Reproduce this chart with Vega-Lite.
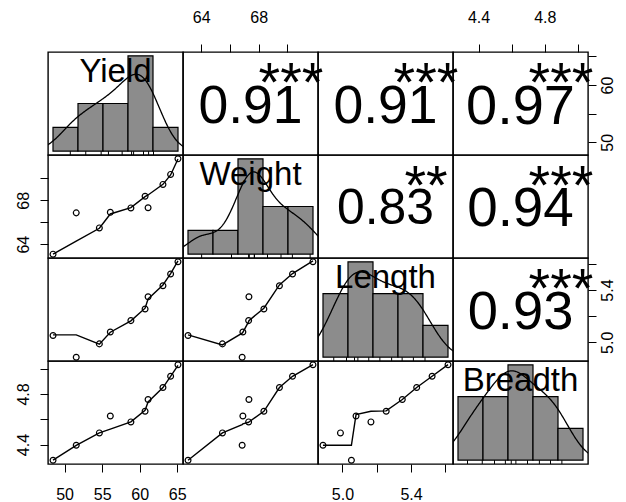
{
"$schema":"https://vega.github.io/schema/vega-lite/v6.json",
"background":"white",
"padding":{"left":14,"top":8,"right":5,"bottom":5},
"config":{
 "font":"Liberation Sans",
 "view":{"stroke":"black","strokeWidth":1.4},
 "concat":{"spacing":0},
 "axis":{"grid":false,"domain":false,"ticks":true,"tickColor":"black","tickWidth":1,"tickSize":8,"labelColor":"black","labelFont":"Liberation Sans","labelFontSize":16,"labelPadding":9,"labelOverlap":false,"labelFlush":false,"labelBound":false},
 "axisLeft":{"labelAngle":270,"labelAlign":"center","labelBaseline":"bottom","labelPadding":9},
 "axisRight":{"labelAngle":270,"labelAlign":"center","labelBaseline":"top","labelPadding":3},
 "axisTop":{"labelAngle":0,"labelAlign":"center","labelBaseline":"bottom","labelPadding":19},
 "axisBottom":{"labelAngle":0,"labelAlign":"center","labelBaseline":"top","labelPadding":14}
},
"datasets":{
 "obs":[
  {"Yield":48.46,"Weight":63.09,"Length":5.052,"Breadth":4.276},
  {"Yield":51.55,"Weight":66.85,"Length":4.886,"Breadth":4.394},
  {"Yield":54.63,"Weight":65.48,"Length":4.988,"Breadth":4.492},
  {"Yield":56.09,"Weight":66.9,"Length":5.079,"Breadth":4.626},
  {"Yield":58.83,"Weight":67.3,"Length":5.166,"Breadth":4.579},
  {"Yield":60.72,"Weight":68.36,"Length":5.255,"Breadth":4.663},
  {"Yield":61.12,"Weight":67.32,"Length":5.349,"Breadth":4.756},
  {"Yield":63.1,"Weight":69.44,"Length":5.433,"Breadth":4.851},
  {"Yield":64.12,"Weight":70.35,"Length":5.523,"Breadth":4.94},
  {"Yield":65.1,"Weight":71.77,"Length":5.616,"Breadth":5.031}
 ],
 "smooth":[
  {"pair":"YW","x":48.46,"y":63.09},{"pair":"YW","x":51.55,"y":64.27},{"pair":"YW","x":54.63,"y":65.45},{"pair":"YW","x":56.09,"y":66.75},{"pair":"YW","x":58.83,"y":67.33},{"pair":"YW","x":60.72,"y":68.33},{"pair":"YW","x":61.12,"y":68.48},{"pair":"YW","x":63.1,"y":69.45},{"pair":"YW","x":64.12,"y":70.3},{"pair":"YW","x":65.1,"y":71.75},
  {"pair":"YL","x":48.46,"y":5.057},{"pair":"YL","x":51.55,"y":5.057},{"pair":"YL","x":54.63,"y":4.985},{"pair":"YL","x":56.09,"y":5.077},{"pair":"YL","x":58.83,"y":5.164},{"pair":"YL","x":60.72,"y":5.261},{"pair":"YL","x":61.12,"y":5.332},{"pair":"YL","x":63.1,"y":5.439},{"pair":"YL","x":64.12,"y":5.526},{"pair":"YL","x":65.1,"y":5.623},
  {"pair":"YB","x":48.46,"y":4.276},{"pair":"YB","x":51.55,"y":4.394},{"pair":"YB","x":54.63,"y":4.492},{"pair":"YB","x":56.09,"y":4.522},{"pair":"YB","x":58.83,"y":4.579},{"pair":"YB","x":60.72,"y":4.671},{"pair":"YB","x":61.12,"y":4.737},{"pair":"YB","x":63.1,"y":4.851},{"pair":"YB","x":64.12,"y":4.94},{"pair":"YB","x":65.1,"y":5.027},
  {"pair":"WL","x":63.09,"y":5.057},{"pair":"WL","x":65.48,"y":4.98},{"pair":"WL","x":66.85,"y":5.07},{"pair":"WL","x":66.9,"y":5.077},{"pair":"WL","x":67.3,"y":5.158},{"pair":"WL","x":67.32,"y":5.166},{"pair":"WL","x":68.36,"y":5.261},{"pair":"WL","x":69.44,"y":5.439},{"pair":"WL","x":70.35,"y":5.526},{"pair":"WL","x":71.77,"y":5.623},
  {"pair":"WB","x":63.09,"y":4.276},{"pair":"WB","x":65.48,"y":4.492},{"pair":"WB","x":66.85,"y":4.558},{"pair":"WB","x":66.9,"y":4.563},{"pair":"WB","x":67.3,"y":4.576},{"pair":"WB","x":67.32,"y":4.579},{"pair":"WB","x":68.36,"y":4.663},{"pair":"WB","x":69.44,"y":4.851},{"pair":"WB","x":70.35,"y":4.94},{"pair":"WB","x":71.77,"y":5.032},
  {"pair":"LB","x":4.886,"y":4.394},{"pair":"LB","x":4.988,"y":4.394},{"pair":"LB","x":5.052,"y":4.394},{"pair":"LB","x":5.079,"y":4.637},{"pair":"LB","x":5.166,"y":4.663},{"pair":"LB","x":5.255,"y":4.666},{"pair":"LB","x":5.349,"y":4.756},{"pair":"LB","x":5.433,"y":4.851},{"pair":"LB","x":5.523,"y":4.94},{"pair":"LB","x":5.616,"y":5.032}
 ],
 "hist":[
  {"var":"Yield","b0":45,"b1":50,"count":1},{"var":"Yield","b0":50,"b1":55,"count":2},{"var":"Yield","b0":55,"b1":60,"count":2},{"var":"Yield","b0":60,"b1":65,"count":4},{"var":"Yield","b0":65,"b1":70,"count":1},
  {"var":"Weight","b0":62,"b1":64,"count":1},{"var":"Weight","b0":64,"b1":66,"count":1},{"var":"Weight","b0":66,"b1":68,"count":4},{"var":"Weight","b0":68,"b1":70,"count":2},{"var":"Weight","b0":70,"b1":72,"count":2},
  {"var":"Length","b0":4.8,"b1":5.0,"count":2},{"var":"Length","b0":5.0,"b1":5.2,"count":3},{"var":"Length","b0":5.2,"b1":5.4,"count":2},{"var":"Length","b0":5.4,"b1":5.6,"count":2},{"var":"Length","b0":5.6,"b1":5.8,"count":1},
  {"var":"Breadth","b0":4.2,"b1":4.4,"count":2},{"var":"Breadth","b0":4.4,"b1":4.6,"count":2},{"var":"Breadth","b0":4.6,"b1":4.8,"count":3},{"var":"Breadth","b0":4.8,"b1":5.0,"count":2},{"var":"Breadth","b0":5.0,"b1":5.2,"count":1}
 ],
 "names":[{"var":"Yield"},{"var":"Weight"},{"var":"Length"},{"var":"Breadth"}],
 "cor":[
  {"pair":"YW","r":"0.91","sig":"***"},{"pair":"YL","r":"0.91","sig":"***"},{"pair":"YB","r":"0.97","sig":"***"},
  {"pair":"WL","r":"0.83","sig":"**"},{"pair":"WB","r":"0.94","sig":"***"},{"pair":"LB","r":"0.93","sig":"***"}
 ]
},
"columns":4,
"spacing":0,
"bounds":"flush",
"concat":[
  {"width":135,"height":103,"resolve":{"scale":{"x":"independent","y":"independent"}},"layer":[
   {"data":{"name":"hist"},"transform":[{"filter":"datum.var=='Yield'"}],"mark":{"type":"rect","fill":"#8c8c8c","stroke":"black","strokeWidth":1.2},
    "encoding":{"x":{"field":"b0","type":"quantitative","scale":{"domain":[44,71],"nice":false,"zero":false},"axis":null},"x2":{"field":"b1"},
     "y":{"field":"count","type":"quantitative","scale":{"domain":[-0.16,4.16],"nice":false,"zero":false},"axis":null},"y2":{"datum":0}}},
   {"data":{"name":"obs"},"transform":[{"density":"Yield","bandwidth":3.156,"extent":[38.99,74.57],"steps":300}],"mark":{"type":"line","color":"black","strokeWidth":1.3,"clip":true},
    "encoding":{"x":{"field":"value","type":"quantitative","scale":{"domain":[44,71],"nice":false,"zero":false},"axis":null},
     "y":{"field":"density","type":"quantitative","scale":{"domain":[-0.0032,0.0832],"nice":false,"zero":false},"axis":null}}},
   {"data":{"name":"obs"},"mark":{"type":"rule","color":"black","strokeWidth":1},
    "encoding":{"x":{"field":"Yield","type":"quantitative","scale":{"domain":[44,71],"nice":false,"zero":false},"axis":null},
     "y":{"datum":-0.16,"type":"quantitative","scale":{"domain":[-0.16,4.16],"nice":false,"zero":false},"axis":null},"y2":{"datum":0}}},
   {"data":{"name":"names"},"transform":[{"filter":"datum.var=='Yield'"}],"mark":{"type":"text","fontSize":33,"baseline":"alphabetic","align":"center","dy":13,"color":"black"},
    "encoding":{"text":{"field":"var","type":"nominal"},"x":{"datum":0.5,"type":"quantitative","scale":{"domain":[0,1],"nice":false,"zero":false},"axis":null},
     "y":{"datum":0.833,"type":"quantitative","scale":{"domain":[0,1],"nice":false,"zero":false},"axis":null}}}
  ]},
  {"width":135,"height":103,"resolve":{"scale":{"x":"independent","y":"independent"}},"layer":[
   {"data":{"name":"obs"},"mark":{"type":"point","opacity":0},
    "encoding":{"x":{"field":"Weight","type":"quantitative","scale":{"domain":[62.74,72.12],"nice":false,"zero":false},"axis":{"orient":"top","values":[64,66,68,70],"title":null,"labelExpr":"datum.value==66||datum.value==70?'':datum.label"}}}},
   {"data":{"name":"cor"},"transform":[{"filter":"datum.pair=='YW'"}],"mark":{"type":"text","fontSize":53.5,"baseline":"alphabetic","align":"center","dy":19.2,"color":"black"},
    "encoding":{"text":{"field":"r","type":"nominal"},"x":{"datum":0.5,"type":"quantitative","scale":{"domain":[0,1],"nice":false,"zero":false},"axis":null},"y":{"datum":0.5,"type":"quantitative","scale":{"domain":[0,1],"nice":false,"zero":false},"axis":null}}},
   {"data":{"name":"cor"},"transform":[{"filter":"datum.pair=='YW'"}],"mark":{"type":"text","fontSize":55.5,"baseline":"alphabetic","align":"center","dy":28,"color":"black"},
    "encoding":{"text":{"field":"sig","type":"nominal"},"x":{"datum":0.8,"type":"quantitative","scale":{"domain":[0,1],"nice":false,"zero":false},"axis":null},"y":{"datum":0.8,"type":"quantitative","scale":{"domain":[0,1],"nice":false,"zero":false},"axis":null}}}
  ]},
  {"width":135,"height":103,"resolve":{"scale":{"x":"independent","y":"independent"}},"layer":[
   {"data":{"name":"cor"},"transform":[{"filter":"datum.pair=='YL'"}],"mark":{"type":"text","fontSize":53.5,"baseline":"alphabetic","align":"center","dy":19.2,"color":"black"},
    "encoding":{"text":{"field":"r","type":"nominal"},"x":{"datum":0.5,"type":"quantitative","scale":{"domain":[0,1],"nice":false,"zero":false},"axis":null},"y":{"datum":0.5,"type":"quantitative","scale":{"domain":[0,1],"nice":false,"zero":false},"axis":null}}},
   {"data":{"name":"cor"},"transform":[{"filter":"datum.pair=='YL'"}],"mark":{"type":"text","fontSize":55.5,"baseline":"alphabetic","align":"center","dy":28,"color":"black"},
    "encoding":{"text":{"field":"sig","type":"nominal"},"x":{"datum":0.8,"type":"quantitative","scale":{"domain":[0,1],"nice":false,"zero":false},"axis":null},"y":{"datum":0.8,"type":"quantitative","scale":{"domain":[0,1],"nice":false,"zero":false},"axis":null}}}
  ]},
  {"width":135,"height":103,"resolve":{"scale":{"x":"independent","y":"independent"}},"layer":[
   {"data":{"name":"obs"},"mark":{"type":"point","opacity":0},
    "encoding":{"x":{"field":"Breadth","type":"quantitative","scale":{"domain":[4.246,5.061],"nice":false,"zero":false},"axis":{"orient":"top","values":[4.4,4.6,4.8,5],"title":null,"labelExpr":"datum.value==4.6||datum.value==5?'':format(datum.value,'.1f')"}},
     "y":{"field":"Yield","type":"quantitative","scale":{"domain":[47.79,65.77],"nice":false,"zero":false},"axis":{"orient":"right","values":[50,55,60,65],"title":null,"labelExpr":"datum.value==55||datum.value==65?'':datum.label"}}}},
   {"data":{"name":"cor"},"transform":[{"filter":"datum.pair=='YB'"}],"mark":{"type":"text","fontSize":56,"baseline":"alphabetic","align":"center","dy":20,"color":"black"},
    "encoding":{"text":{"field":"r","type":"nominal"},"x":{"datum":0.5,"type":"quantitative","scale":{"domain":[0,1],"nice":false,"zero":false},"axis":null},"y":{"datum":0.5,"type":"quantitative","scale":{"domain":[0,1],"nice":false,"zero":false},"axis":null}}},
   {"data":{"name":"cor"},"transform":[{"filter":"datum.pair=='YB'"}],"mark":{"type":"text","fontSize":55.5,"baseline":"alphabetic","align":"center","dy":28,"color":"black"},
    "encoding":{"text":{"field":"sig","type":"nominal"},"x":{"datum":0.8,"type":"quantitative","scale":{"domain":[0,1],"nice":false,"zero":false},"axis":null},"y":{"datum":0.8,"type":"quantitative","scale":{"domain":[0,1],"nice":false,"zero":false},"axis":null}}}
  ]},
  {"width":135,"height":103,"layer":[
   {"data":{"name":"obs"},"mark":{"type":"point","shape":"circle","filled":false,"color":"black","size":34,"strokeWidth":1.2,"opacity":1},
    "encoding":{"x":{"field":"Yield","type":"quantitative","scale":{"domain":[47.79,65.77],"nice":false,"zero":false},"axis":null},
     "y":{"field":"Weight","type":"quantitative","scale":{"domain":[62.74,72.12],"nice":false,"zero":false},"axis":{"orient":"left","values":[64,66,68,70],"title":null,"labelExpr":"datum.value==66||datum.value==70?'':datum.label"}}}},
   {"data":{"name":"smooth"},"transform":[{"filter":"datum.pair=='YW'"}],"mark":{"type":"line","color":"black","strokeWidth":1.4},
    "encoding":{"x":{"field":"x","type":"quantitative","axis":null},"y":{"field":"y","type":"quantitative","axis":{"orient":"left","values":[64,66,68,70],"title":null,"labelExpr":"datum.value==66||datum.value==70?'':datum.label"}}}}
  ]},
  {"width":135,"height":103,"resolve":{"scale":{"x":"independent","y":"independent"}},"layer":[
   {"data":{"name":"hist"},"transform":[{"filter":"datum.var=='Weight'"}],"mark":{"type":"rect","fill":"#8c8c8c","stroke":"black","strokeWidth":1.2},
    "encoding":{"x":{"field":"b0","type":"quantitative","scale":{"domain":[61.6,72.4],"nice":false,"zero":false},"axis":null},"x2":{"field":"b1"},
     "y":{"field":"count","type":"quantitative","scale":{"domain":[-0.16,4.16],"nice":false,"zero":false},"axis":null},"y2":{"datum":0}}},
   {"data":{"name":"obs"},"transform":[{"density":"Weight","bandwidth":1.17,"extent":[59.58,75.28],"steps":300}],"mark":{"type":"line","color":"black","strokeWidth":1.3,"clip":true},
    "encoding":{"x":{"field":"value","type":"quantitative","scale":{"domain":[61.6,72.4],"nice":false,"zero":false},"axis":null},
     "y":{"field":"density","type":"quantitative","scale":{"domain":[-0.008,0.208],"nice":false,"zero":false},"axis":null}}},
   {"data":{"name":"obs"},"mark":{"type":"rule","color":"black","strokeWidth":1},
    "encoding":{"x":{"field":"Weight","type":"quantitative","scale":{"domain":[61.6,72.4],"nice":false,"zero":false},"axis":null},
     "y":{"datum":-0.16,"type":"quantitative","scale":{"domain":[-0.16,4.16],"nice":false,"zero":false},"axis":null},"y2":{"datum":0}}},
   {"data":{"name":"names"},"transform":[{"filter":"datum.var=='Weight'"}],"mark":{"type":"text","fontSize":33,"baseline":"alphabetic","align":"center","dy":13,"color":"black"},
    "encoding":{"text":{"field":"var","type":"nominal"},"x":{"datum":0.5,"type":"quantitative","scale":{"domain":[0,1],"nice":false,"zero":false},"axis":null},
     "y":{"datum":0.833,"type":"quantitative","scale":{"domain":[0,1],"nice":false,"zero":false},"axis":null}}}
  ]},
  {"width":135,"height":103,"resolve":{"scale":{"x":"independent","y":"independent"}},"layer":[
   {"data":{"name":"cor"},"transform":[{"filter":"datum.pair=='WL'"}],"mark":{"type":"text","fontSize":49.8,"baseline":"alphabetic","align":"center","dy":17.8,"color":"black"},
    "encoding":{"text":{"field":"r","type":"nominal"},"x":{"datum":0.5,"type":"quantitative","scale":{"domain":[0,1],"nice":false,"zero":false},"axis":null},"y":{"datum":0.5,"type":"quantitative","scale":{"domain":[0,1],"nice":false,"zero":false},"axis":null}}},
   {"data":{"name":"cor"},"transform":[{"filter":"datum.pair=='WL'"}],"mark":{"type":"text","fontSize":55.5,"baseline":"alphabetic","align":"center","dy":28,"color":"black"},
    "encoding":{"text":{"field":"sig","type":"nominal"},"x":{"datum":0.8,"type":"quantitative","scale":{"domain":[0,1],"nice":false,"zero":false},"axis":null},"y":{"datum":0.8,"type":"quantitative","scale":{"domain":[0,1],"nice":false,"zero":false},"axis":null}}}
  ]},
  {"width":135,"height":103,"resolve":{"scale":{"x":"independent","y":"independent"}},"layer":[
   {"data":{"name":"cor"},"transform":[{"filter":"datum.pair=='WB'"}],"mark":{"type":"text","fontSize":54.8,"baseline":"alphabetic","align":"center","dy":19.6,"color":"black"},
    "encoding":{"text":{"field":"r","type":"nominal"},"x":{"datum":0.5,"type":"quantitative","scale":{"domain":[0,1],"nice":false,"zero":false},"axis":null},"y":{"datum":0.5,"type":"quantitative","scale":{"domain":[0,1],"nice":false,"zero":false},"axis":null}}},
   {"data":{"name":"cor"},"transform":[{"filter":"datum.pair=='WB'"}],"mark":{"type":"text","fontSize":55.5,"baseline":"alphabetic","align":"center","dy":28,"color":"black"},
    "encoding":{"text":{"field":"sig","type":"nominal"},"x":{"datum":0.8,"type":"quantitative","scale":{"domain":[0,1],"nice":false,"zero":false},"axis":null},"y":{"datum":0.8,"type":"quantitative","scale":{"domain":[0,1],"nice":false,"zero":false},"axis":null}}}
  ]},
  {"width":135,"height":103,"layer":[
   {"data":{"name":"obs"},"mark":{"type":"point","shape":"circle","filled":false,"color":"black","size":34,"strokeWidth":1.2,"opacity":1},
    "encoding":{"x":{"field":"Yield","type":"quantitative","scale":{"domain":[47.79,65.77],"nice":false,"zero":false},"axis":null},
     "y":{"field":"Length","type":"quantitative","scale":{"domain":[4.857,5.645],"nice":false,"zero":false},"axis":null}}},
   {"data":{"name":"smooth"},"transform":[{"filter":"datum.pair=='YL'"}],"mark":{"type":"line","color":"black","strokeWidth":1.4},
    "encoding":{"x":{"field":"x","type":"quantitative","axis":null},"y":{"field":"y","type":"quantitative","axis":null}}}
  ]},
  {"width":135,"height":103,"layer":[
   {"data":{"name":"obs"},"mark":{"type":"point","shape":"circle","filled":false,"color":"black","size":34,"strokeWidth":1.2,"opacity":1},
    "encoding":{"x":{"field":"Weight","type":"quantitative","scale":{"domain":[62.74,72.12],"nice":false,"zero":false},"axis":null},
     "y":{"field":"Length","type":"quantitative","scale":{"domain":[4.857,5.645],"nice":false,"zero":false},"axis":null}}},
   {"data":{"name":"smooth"},"transform":[{"filter":"datum.pair=='WL'"}],"mark":{"type":"line","color":"black","strokeWidth":1.4},
    "encoding":{"x":{"field":"x","type":"quantitative","axis":null},"y":{"field":"y","type":"quantitative","axis":null}}}
  ]},
  {"width":135,"height":103,"resolve":{"scale":{"x":"independent","y":"independent"}},"layer":[
   {"data":{"name":"hist"},"transform":[{"filter":"datum.var=='Length'"}],"mark":{"type":"rect","fill":"#8c8c8c","stroke":"black","strokeWidth":1.2},
    "encoding":{"x":{"field":"b0","type":"quantitative","scale":{"domain":[4.76,5.84],"nice":false,"zero":false},"axis":null},"x2":{"field":"b1"},
     "y":{"field":"count","type":"quantitative","scale":{"domain":[-0.12,3.12],"nice":false,"zero":false},"axis":null},"y2":{"datum":0}}},
   {"data":{"name":"obs"},"transform":[{"density":"Length","bandwidth":0.1373,"extent":[4.474,6.028],"steps":300}],"mark":{"type":"line","color":"black","strokeWidth":1.3,"clip":true},
    "encoding":{"x":{"field":"value","type":"quantitative","scale":{"domain":[4.76,5.84],"nice":false,"zero":false},"axis":null},
     "y":{"field":"density","type":"quantitative","scale":{"domain":[-0.06,1.56],"nice":false,"zero":false},"axis":null}}},
   {"data":{"name":"obs"},"mark":{"type":"rule","color":"black","strokeWidth":1},
    "encoding":{"x":{"field":"Length","type":"quantitative","scale":{"domain":[4.76,5.84],"nice":false,"zero":false},"axis":null},
     "y":{"datum":-0.12,"type":"quantitative","scale":{"domain":[-0.12,3.12],"nice":false,"zero":false},"axis":null},"y2":{"datum":0}}},
   {"data":{"name":"names"},"transform":[{"filter":"datum.var=='Length'"}],"mark":{"type":"text","fontSize":33,"baseline":"alphabetic","align":"center","dy":13,"color":"black"},
    "encoding":{"text":{"field":"var","type":"nominal"},"x":{"datum":0.5,"type":"quantitative","scale":{"domain":[0,1],"nice":false,"zero":false},"axis":null},
     "y":{"datum":0.833,"type":"quantitative","scale":{"domain":[0,1],"nice":false,"zero":false},"axis":null}}}
  ]},
  {"width":135,"height":103,"resolve":{"scale":{"x":"independent","y":"independent"}},"layer":[
   {"data":{"name":"obs"},"mark":{"type":"point","opacity":0},
    "encoding":{"y":{"field":"Length","type":"quantitative","scale":{"domain":[4.857,5.645],"nice":false,"zero":false},"axis":{"orient":"right","values":[5,5.2,5.4,5.6],"title":null,"labelExpr":"datum.value==5.2||datum.value==5.6?'':format(datum.value,'.1f')"}}}},
   {"data":{"name":"cor"},"transform":[{"filter":"datum.pair=='LB'"}],"mark":{"type":"text","fontSize":54.3,"baseline":"alphabetic","align":"center","dy":19.4,"color":"black"},
    "encoding":{"text":{"field":"r","type":"nominal"},"x":{"datum":0.5,"type":"quantitative","scale":{"domain":[0,1],"nice":false,"zero":false},"axis":null},"y":{"datum":0.5,"type":"quantitative","scale":{"domain":[0,1],"nice":false,"zero":false},"axis":null}}},
   {"data":{"name":"cor"},"transform":[{"filter":"datum.pair=='LB'"}],"mark":{"type":"text","fontSize":55.5,"baseline":"alphabetic","align":"center","dy":28,"color":"black"},
    "encoding":{"text":{"field":"sig","type":"nominal"},"x":{"datum":0.8,"type":"quantitative","scale":{"domain":[0,1],"nice":false,"zero":false},"axis":null},"y":{"datum":0.8,"type":"quantitative","scale":{"domain":[0,1],"nice":false,"zero":false},"axis":null}}}
  ]},
  {"width":135,"height":103,"layer":[
   {"data":{"name":"obs"},"mark":{"type":"point","shape":"circle","filled":false,"color":"black","size":34,"strokeWidth":1.2,"opacity":1},
    "encoding":{"x":{"field":"Yield","type":"quantitative","scale":{"domain":[47.79,65.77],"nice":false,"zero":false},"axis":{"orient":"bottom","values":[50,55,60,65],"title":null}},
     "y":{"field":"Breadth","type":"quantitative","scale":{"domain":[4.246,5.061],"nice":false,"zero":false},"axis":{"orient":"left","values":[4.4,4.6,4.8,5],"title":null,"labelExpr":"datum.value==4.6||datum.value==5?'':format(datum.value,'.1f')"}}}},
   {"data":{"name":"smooth"},"transform":[{"filter":"datum.pair=='YB'"}],"mark":{"type":"line","color":"black","strokeWidth":1.4},
    "encoding":{"x":{"field":"x","type":"quantitative","axis":{"orient":"bottom","values":[50,55,60,65],"title":null}},"y":{"field":"y","type":"quantitative","axis":{"orient":"left","values":[4.4,4.6,4.8,5],"title":null,"labelExpr":"datum.value==4.6||datum.value==5?'':format(datum.value,'.1f')"}}}}
  ]},
  {"width":135,"height":103,"layer":[
   {"data":{"name":"obs"},"mark":{"type":"point","shape":"circle","filled":false,"color":"black","size":34,"strokeWidth":1.2,"opacity":1},
    "encoding":{"x":{"field":"Weight","type":"quantitative","scale":{"domain":[62.74,72.12],"nice":false,"zero":false},"axis":null},
     "y":{"field":"Breadth","type":"quantitative","scale":{"domain":[4.246,5.061],"nice":false,"zero":false},"axis":null}}},
   {"data":{"name":"smooth"},"transform":[{"filter":"datum.pair=='WB'"}],"mark":{"type":"line","color":"black","strokeWidth":1.4},
    "encoding":{"x":{"field":"x","type":"quantitative","axis":null},"y":{"field":"y","type":"quantitative","axis":null}}}
  ]},
  {"width":135,"height":103,"layer":[
   {"data":{"name":"obs"},"mark":{"type":"point","shape":"circle","filled":false,"color":"black","size":34,"strokeWidth":1.2,"opacity":1},
    "encoding":{"x":{"field":"Length","type":"quantitative","scale":{"domain":[4.857,5.645],"nice":false,"zero":false},"axis":{"orient":"bottom","values":[5,5.2,5.4,5.6],"title":null,"labelExpr":"datum.value==5.2||datum.value==5.6?'':format(datum.value,'.1f')"}},
     "y":{"field":"Breadth","type":"quantitative","scale":{"domain":[4.246,5.061],"nice":false,"zero":false},"axis":null}}},
   {"data":{"name":"smooth"},"transform":[{"filter":"datum.pair=='LB'"}],"mark":{"type":"line","color":"black","strokeWidth":1.4},
    "encoding":{"x":{"field":"x","type":"quantitative","axis":{"orient":"bottom","values":[5,5.2,5.4,5.6],"title":null,"labelExpr":"datum.value==5.2||datum.value==5.6?'':format(datum.value,'.1f')"}},"y":{"field":"y","type":"quantitative","axis":null}}}
  ]},
  {"width":135,"height":103,"resolve":{"scale":{"x":"independent","y":"independent"}},"layer":[
   {"data":{"name":"hist"},"transform":[{"filter":"datum.var=='Breadth'"}],"mark":{"type":"rect","fill":"#8c8c8c","stroke":"black","strokeWidth":1.2},
    "encoding":{"x":{"field":"b0","type":"quantitative","scale":{"domain":[4.16,5.24],"nice":false,"zero":false},"axis":null},"x2":{"field":"b1"},
     "y":{"field":"count","type":"quantitative","scale":{"domain":[-0.12,3.12],"nice":false,"zero":false},"axis":null},"y2":{"datum":0}}},
   {"data":{"name":"obs"},"transform":[{"density":"Breadth","bandwidth":0.1329,"extent":[3.877,5.43],"steps":300}],"mark":{"type":"line","color":"black","strokeWidth":1.3,"clip":true},
    "encoding":{"x":{"field":"value","type":"quantitative","scale":{"domain":[4.16,5.24],"nice":false,"zero":false},"axis":null},
     "y":{"field":"density","type":"quantitative","scale":{"domain":[-0.06,1.56],"nice":false,"zero":false},"axis":null}}},
   {"data":{"name":"obs"},"mark":{"type":"rule","color":"black","strokeWidth":1},
    "encoding":{"x":{"field":"Breadth","type":"quantitative","scale":{"domain":[4.16,5.24],"nice":false,"zero":false},"axis":null},
     "y":{"datum":-0.12,"type":"quantitative","scale":{"domain":[-0.12,3.12],"nice":false,"zero":false},"axis":null},"y2":{"datum":0}}},
   {"data":{"name":"names"},"transform":[{"filter":"datum.var=='Breadth'"}],"mark":{"type":"text","fontSize":33,"baseline":"alphabetic","align":"center","dy":13,"color":"black"},
    "encoding":{"text":{"field":"var","type":"nominal"},"x":{"datum":0.5,"type":"quantitative","scale":{"domain":[0,1],"nice":false,"zero":false},"axis":null},
     "y":{"datum":0.833,"type":"quantitative","scale":{"domain":[0,1],"nice":false,"zero":false},"axis":null}}}
  ]}
]
}
